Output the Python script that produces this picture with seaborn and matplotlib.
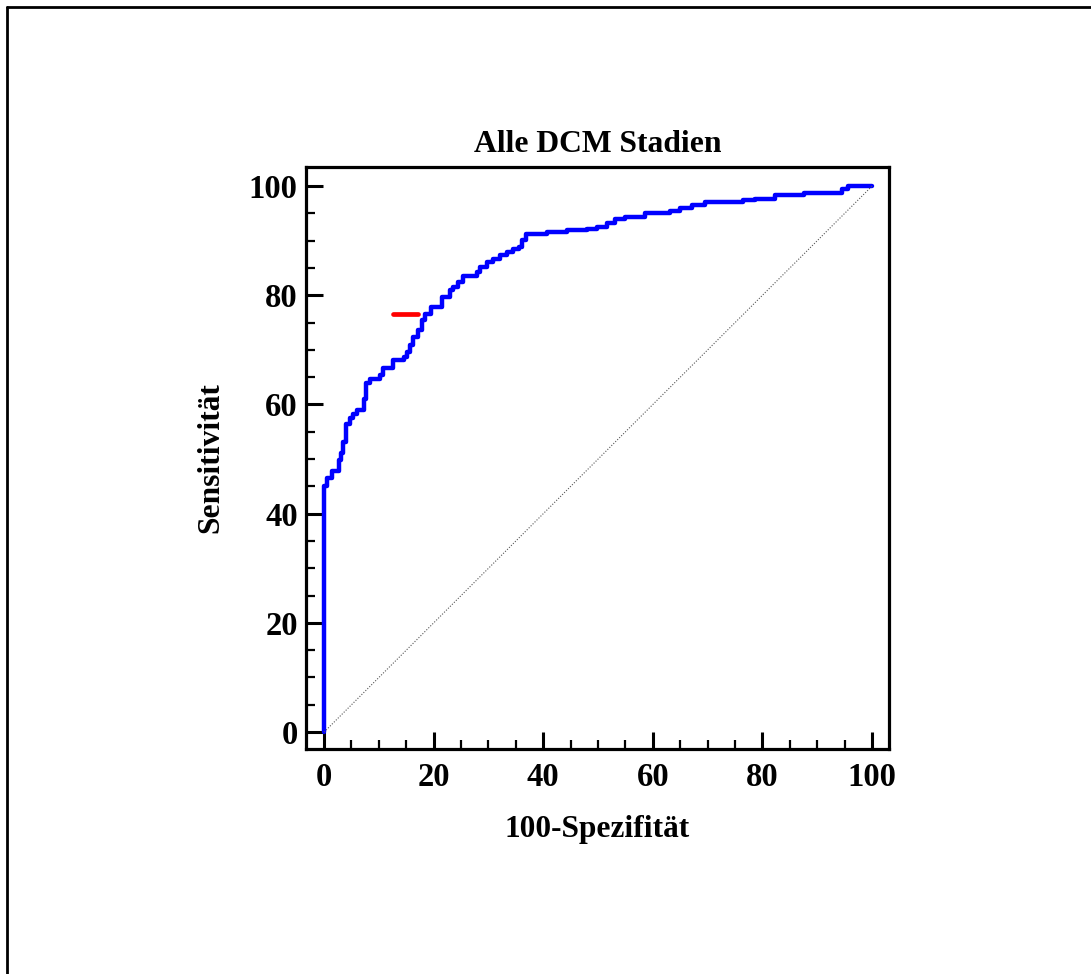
import matplotlib
matplotlib.use("Agg")
import matplotlib.pyplot as plt
from matplotlib.lines import Line2D
from matplotlib.ticker import MultipleLocator
import seaborn as sns
import pandas as pd

# ROC step curve vertices (100-Spezifität, Sensitivität)
fpr = [0, 0, 0.5, 1.5, 2.7, 3.0, 3.5, 4.0, 4.7, 5.2, 6.0, 7.2, 7.6, 8.4, 10.2,
       10.7, 12.5, 14.5, 15.2, 15.7, 16.3, 17.2, 17.8, 18.4, 19.6, 21.5, 23.0,
       23.6, 24.5, 25.4, 27.9, 28.5, 29.7, 30.9, 32.1, 33.3, 34.5, 35.5, 36.1,
       36.9, 40.6, 44.3, 47.9, 49.8, 51.6, 53.1, 54.9, 58.6, 63.1, 65.0, 67.1,
       69.5, 76.5, 78.6, 82.3, 87.5, 94.5, 95.7, 100]
tpr = [0, 45.0, 46.5, 47.8, 49.9, 51.1, 53.2, 56.4, 57.5, 58.2, 59.0, 61.0, 63.9,
       64.6, 65.4, 66.6, 68.1, 68.7, 69.7, 70.9, 72.4, 73.6, 75.5, 76.6, 77.9,
       79.7, 81.0, 81.6, 82.5, 83.5, 84.3, 85.2, 86.1, 86.7, 87.4, 88.0, 88.4,
       88.9, 90.1, 91.2, 91.6, 91.9, 92.2, 92.6, 93.2, 93.9, 94.4, 95.1, 95.4,
       95.9, 96.5, 97.1, 97.4, 97.6, 98.4, 98.7, 99.4, 100.0, 100.0]

# Reference diagonal
diag_x = [0, 100]
diag_y = [0, 100]

# Optimal criterion marker (horizontal bar)
crit_x = [12.5, 17.2]
crit_y = [76.5, 76.5]

title = "Alle DCM Stadien"
xlabel = "100-Spezifität"
ylabel = "Sensitivität"
ticks = [0, 20, 40, 60, 80, 100]

sns.set_theme(style="white")
plt.rcParams["font.family"] = ["Liberation Serif", "DejaVu Serif"]
plt.rcParams["font.weight"] = "bold"
plt.rcParams["text.color"] = "black"
plt.rcParams["axes.labelcolor"] = "black"
plt.rcParams["xtick.color"] = "black"
plt.rcParams["ytick.color"] = "black"

fig = plt.figure(figsize=(10.91, 9.74), dpi=100)
ax = fig.add_axes([306 / 1091, 1 - 749 / 974, (889 - 306) / 1091, (749 - 167) / 974])

df = pd.DataFrame({"fpr": fpr, "tpr": tpr})
sns.lineplot(data=df, x="fpr", y="tpr", ax=ax, estimator=None, sort=False,
             color="#0000ff", linewidth=3.2, drawstyle="steps-post")
sns.lineplot(x=diag_x, y=diag_y, ax=ax, estimator=None, sort=False,
             color="#555555", linewidth=0.8, linestyle=(0, (1, 1.5)))
sns.lineplot(x=crit_x, y=crit_y, ax=ax, estimator=None, sort=False,
             color="#ff0000", linewidth=3.4, solid_capstyle="round")

ax.set_xlim(-3.3, 103.1)
ax.set_ylim(-3.1, 103.5)
ax.set_xticks(ticks)
ax.set_yticks(ticks)
ax.xaxis.set_minor_locator(MultipleLocator(5))
ax.yaxis.set_minor_locator(MultipleLocator(5))
ax.tick_params(which="both", direction="in", top=False, right=False,
               bottom=True, left=True, color="black", labelcolor="black")
ax.tick_params(which="major", length=12, width=2.2, labelsize=23.5, pad=9)
ax.tick_params(axis="y", which="major", pad=6)
ax.tick_params(which="minor", length=6.5, width=1.6)
for lab in ax.get_xticklabels() + ax.get_yticklabels():
    lab.set_fontweight("bold")
for s in ax.spines.values():
    s.set_visible(True)
    s.set_color("black")
    s.set_linewidth(2.3)

ax.set_title(title, fontsize=22.8, fontweight="bold", pad=11, color="black")
ax.set_xlabel(xlabel, fontsize=22.6, fontweight="bold", labelpad=16, color="black")
ax.set_ylabel(ylabel, fontsize=22.6, fontweight="bold", labelpad=17, color="black")
ax.grid(False)

# outer frame (top and left edges visible)
fig.add_artist(Line2D([7 / 1091, 1.01], [1 - 7 / 974, 1 - 7 / 974],
                      transform=fig.transFigure, color="black", linewidth=2.0))
fig.add_artist(Line2D([7 / 1091, 7 / 1091], [1 - 7 / 974, -0.01],
                      transform=fig.transFigure, color="black", linewidth=2.0))

fig.savefig("out.png", dpi=100, facecolor="white")
